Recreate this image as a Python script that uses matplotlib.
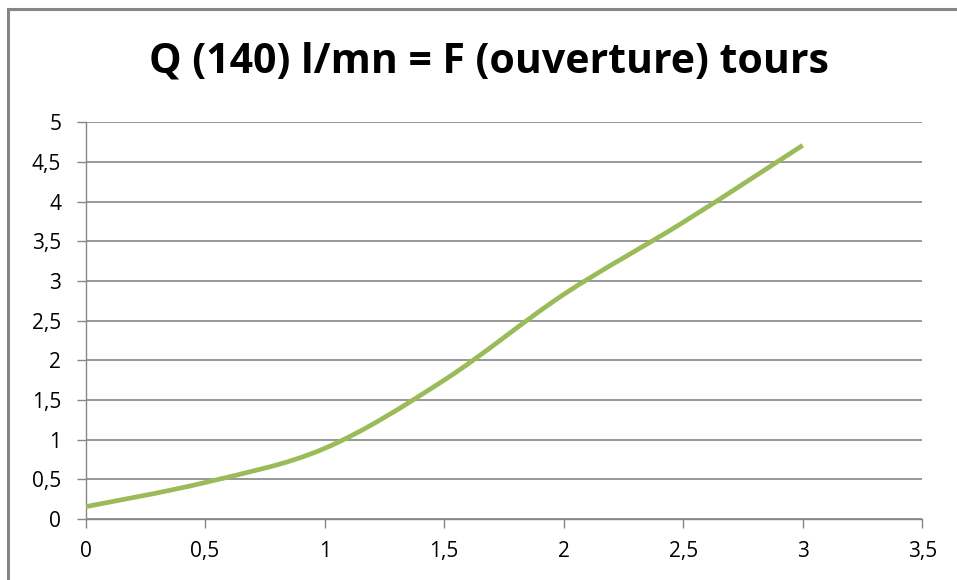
import matplotlib
matplotlib.use("Agg")
import matplotlib.pyplot as plt
import numpy as np
from matplotlib.path import Path
from matplotlib.patches import PathPatch, Rectangle
from matplotlib.ticker import FuncFormatter, MultipleLocator

title = "Q (140) l/mn = F (ouverture) tours"
x_vals = [0, 0.5, 1, 1.5, 2, 2.5, 3]
y_vals = [0.155, 0.46, 0.89, 1.75, 2.83, 3.74, 4.71]

fig = plt.figure(figsize=(9.57, 5.8), dpi=100)
ax = fig.add_axes([85.5/957, 61/580, (922.3-85.5)/957, (519-122.3)/580])

# chart border (left/top visible)
fig.patches.append(Rectangle((8/957, -0.1), 1.2, (580-9.5)/580 + 0.1, transform=fig.transFigure,
                             fill=False, edgecolor="#868686", linewidth=2.2))

# smoothed line (Catmull-Rom style Bezier through data points)
pts = np.column_stack([x_vals, y_vals])
n = len(pts)
verts = [pts[0]]
codes = [Path.MOVETO]
for i in range(n - 1):
    p0 = pts[i - 1] if i > 0 else pts[i]
    p1 = pts[i]
    p2 = pts[i + 1]
    p3 = pts[i + 2] if i + 2 < n else pts[i + 1]
    c1 = p1 + (p2 - p0) / 6.0
    c2 = p2 - (p3 - p1) / 6.0
    verts += [c1, c2, p2]
    codes += [Path.CURVE4] * 3
ax.add_patch(PathPatch(Path(verts, codes), facecolor="none", edgecolor="#9BBB59",
                       linewidth=3.4, capstyle="butt", zorder=3))
ax.plot(x_vals, y_vals, linestyle="none", marker=None)

ax.set_xlim(0, 3.5)
ax.set_ylim(0, 5)
ax.xaxis.set_major_locator(MultipleLocator(0.5))
ax.yaxis.set_major_locator(MultipleLocator(0.5))
fmt = FuncFormatter(lambda v, p: ("%g" % v).replace(".", ","))
ax.xaxis.set_major_formatter(fmt)
ax.yaxis.set_major_formatter(fmt)

ax.grid(axis="y", color="#868686", linewidth=1.2)
ax.set_axisbelow(True)
for s in ["top", "right"]:
    ax.spines[s].set_visible(False)
for s in ["left", "bottom"]:
    ax.spines[s].set_color("#868686")
    ax.spines[s].set_linewidth(1.0)
ax.tick_params(axis="both", colors="#868686", labelcolor="black", labelsize=15,
               length=6.5, width=1.0, direction="out")
ax.tick_params(axis="x", pad=9)
ax.tick_params(axis="y", pad=11)
for lab in ax.get_xticklabels() + ax.get_yticklabels():
    lab.set_family(["Open Sans", "DejaVu Sans"])

fig.text(489/957, 1 - 62/580, title, ha="center", va="center", fontsize=29.5,
         fontweight="bold", family=["Open Sans", "DejaVu Sans"])

fig.savefig("out.png", dpi=100)
